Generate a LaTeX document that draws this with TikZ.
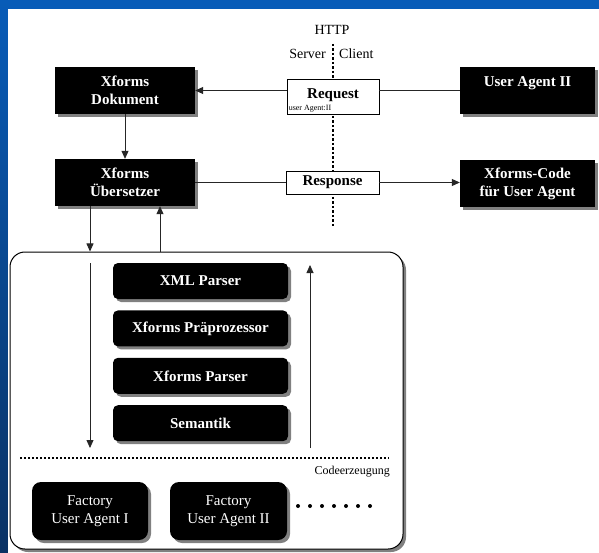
\documentclass[tikz,border=0pt]{standalone}
\usepackage{fontspec}
\setmainfont{Liberation Serif}
\usepackage{xcolor}
\usetikzlibrary{positioning}
\usetikzlibrary{arrows.meta,shapes,shadows}
\definecolor{slideblue}{RGB}{8,92,184}
\definecolor{slidenavy}{RGB}{10,50,100}

\begin{document}
\begin{tikzpicture}[x=1pt,y=-1pt,>={Triangle[width=7pt,length=8pt]},
  blackbox/.style={rectangle,fill=black,text=white,align=center,inner sep=0pt,
    font=\fontsize{15}{18}\selectfont\bfseries,
    drop shadow={shadow xshift=3pt,shadow yshift=-3pt,fill=gray,opacity=1}},
  bigbox/.style={blackbox,minimum width=140pt,minimum height=47pt},
  stepbox/.style={blackbox,rounded corners=5pt,minimum width=175pt,minimum height=36pt},
  factory/.style={blackbox,rounded corners=9pt,font=\fontsize{15}{18}\selectfont,
    minimum width=116pt,minimum height=58pt},
  msg/.style={rectangle,draw,fill=white,inner sep=0pt,line width=0.8pt,
    font=\fontsize{15}{18}\selectfont\bfseries},
  conn/.style={line width=0.8pt,black!85},
  plain/.style={inner sep=0pt,font=\fontsize{14}{16}\selectfont}]
  \useasboundingbox (0,0) rectangle (599,553);
  \fill[slideblue] (0,0) rectangle (599,9);
  \shade[top color=slideblue,bottom color=slidenavy] (0,0) rectangle (8,553);
  \fill[white] (8,9) rectangle (599,553);

  \node[plain] (http) at (332,30) {HTTP};
  \node[plain,anchor=east] (server) at (326,54) {Server};
  \node[plain,anchor=west] (client) at (339,54) {Client};
  \coordinate (linetop) at (333,44);
  \coordinate (linebot) at (333,226);
  \draw[line width=2.5pt,dash pattern=on 2.5pt off 2pt] (linetop) -- (linebot);

  \node[bigbox] (dok) at (125,90.5) {Xforms\\Dokument};
  \node[bigbox] (ueb) at (125,182.5) {Xforms\\Übersetzer};
  \node[bigbox,minimum width=135pt] (ua) at (527.5,90.5) {User Agent II\\\mbox{}};
  \node[bigbox,minimum width=135pt] (code) at (527.5,183.5) {Xforms-Code\\für User Agent};
  \node[msg,minimum width=92pt,minimum height=35pt] (req) at (333,96.5) {\raisebox{5pt}{Request}};
  \node[anchor=south west,inner sep=2pt,font=\fontsize{8}{9}\selectfont] (reqnote)
    at (req.south west) {user Agent:II};
  \node[msg,minimum width=93pt,minimum height=23pt] (resp) at (332.5,182.5) {Response};

  \draw[conn] (ua.west) -- (ua.west -| req.east);
  \draw[conn,->] (req.west |- dok.east) -- (dok.east);
  \draw[conn,->] (dok) -- (ueb);
  \draw[conn] (ueb.east) -- (resp.west);
  \draw[conn,->] (resp.east) -- (resp.east -| code.west);

  \node[rectangle,draw,fill=white,line width=1pt,rounded corners=15pt,
    minimum width=393pt,minimum height=297pt,
    drop shadow={shadow xshift=3pt,shadow yshift=-3pt,fill=gray,opacity=1}]
    (comp) at (206.5,400.5) {};
  \draw[conn,->] ([xshift=-35pt]ueb.south) -- ([xshift=-35pt]ueb.south |- comp.north);
  \draw[conn,->] ([xshift=35pt]ueb.south |- comp.north) -- ([xshift=35pt]ueb.south);

  \node[stepbox] (xml) at (200.5,281) {XML Parser};
  \node[stepbox,below=11pt of xml] (prae) {Xforms Präprozessor};
  \node[stepbox,below=11pt of prae] (xpar) {Xforms Parser};
  \node[stepbox,below=11pt of xpar] (sem) {Semantik};

  \coordinate (downtop) at (90,263);
  \coordinate (downbot) at (90,448);
  \coordinate (uptop) at (310,265);
  \coordinate (upbot) at (310,448);
  \draw[conn,->] (downtop) -- (downbot);
  \draw[conn,->] (upbot) -- (uptop);

  \coordinate (sepL) at (20,458);
  \coordinate (sepR) at (389,458);
  \draw[line width=2pt,dash pattern=on 2pt off 2pt] (sepL) -- (sepR);
  \node[plain,anchor=east,font=\fontsize{12}{14}\selectfont] (cg) at (390,472) {Codeerzeugung};

  \node[factory] (fa1) at (90,511) {Factory\\User Agent I};
  \node[factory,minimum width=117pt] (fa2) at (228.5,511) {Factory\\User Agent II};
  \foreach \i in {0,...,6}
    \fill (298+12*\i,506) circle (2pt);
\end{tikzpicture}
\end{document}
